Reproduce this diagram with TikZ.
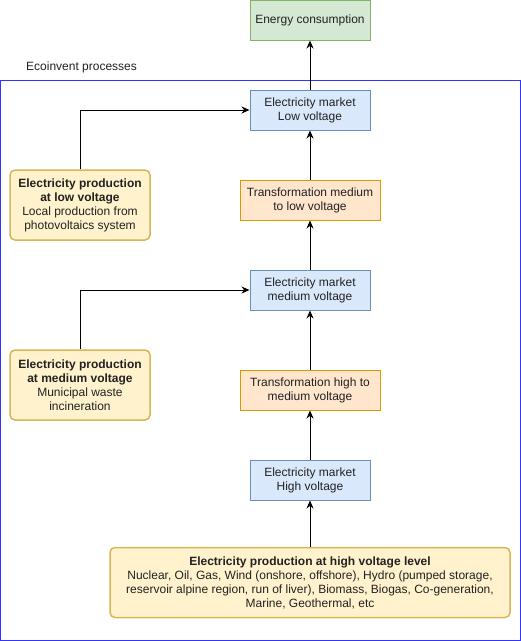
\documentclass[tikz,border=0pt]{standalone}
\usepackage{fontspec}
\setmainfont{Liberation Sans}
\usetikzlibrary{arrows.meta}
\definecolor{gfill}{HTML}{D5E8D4}\definecolor{gline}{HTML}{82B366}
\definecolor{bfill}{HTML}{DAE8FC}\definecolor{bline}{HTML}{6C8EBF}
\definecolor{ofill}{HTML}{FFE6CC}\definecolor{oline}{HTML}{D79B00}
\definecolor{yfill}{HTML}{FFF2CC}\definecolor{yline}{HTML}{D6B656}
\definecolor{frame}{HTML}{3333FF}
\definecolor{txt}{HTML}{222222}
\begin{document}
\begin{tikzpicture}[x=1pt,y=-1pt,
  every node/.style={font=\fontsize{12}{14}\selectfont, text=txt, align=center, inner sep=0pt},
  box/.style={draw, line width=1pt, minimum width=#1, minimum height=40pt},
  greenbox/.style={box=120pt, fill=gfill, draw=gline},
  bluebox/.style={box=120pt, fill=bfill, draw=bline},
  orangebox/.style={box=140pt, fill=ofill, draw=oline},
  yellowbox/.style={draw=yline, fill=yfill, line width=1.5pt, rounded corners=5pt, minimum width=#1, minimum height=70pt},
  conn/.style={draw=black, line width=1pt, -{Stealth[length=8pt,width=7pt]}}
]
\useasboundingbox (0,0) rectangle (521,641);
\draw[frame, line width=1pt] (0.5,80) rectangle (520,640);
\node[anchor=west] (lbl) at (26,67) {Ecoinvent processes};
\node[greenbox] (energy) at (310,20) {Energy consumption};
\node[bluebox] (mlow) at (310,110) {Electricity market\\Low voltage};
\node[orangebox] (tml) at (310,200) {Transformation medium\\to low voltage};
\node[bluebox] (mmed) at (310,290) {Electricity market\\medium voltage};
\node[orangebox] (thm) at (310,390) {Transformation high to\\medium voltage};
\node[bluebox] (mhigh) at (310,480) {Electricity market\\High voltage};
\node[yellowbox=400pt] (phigh) at (310,582.5) {\textbf{Electricity production at high voltage level}\\Nuclear, Oil, Gas, Wind (onshore, offshore), Hydro (pumped storage,\\reservoir alpine region, run of liver), Biomass, Biogas, Co-generation,\\Marine, Geothermal, etc};
\node[yellowbox=140pt] (plow) at (80,205) {\textbf{Electricity production}\\\textbf{at low voltage}\\Local production from\\photovoltaics system};
\node[yellowbox=140pt] (pmed) at (80,385) {\textbf{Electricity production}\\\textbf{at medium voltage}\\Municipal waste\\incineration};
\draw[conn] (mlow) -- (energy);
\draw[conn] (tml) -- (mlow);
\draw[conn] (mmed) -- (tml);
\draw[conn] (thm) -- (mmed);
\draw[conn] (mhigh) -- (thm);
\draw[conn] (phigh) -- (mhigh);
\draw[conn] (plow.north) |- (mlow.west);
\draw[conn] (pmed.north) |- (mmed.west);
\end{tikzpicture}
\end{document}
